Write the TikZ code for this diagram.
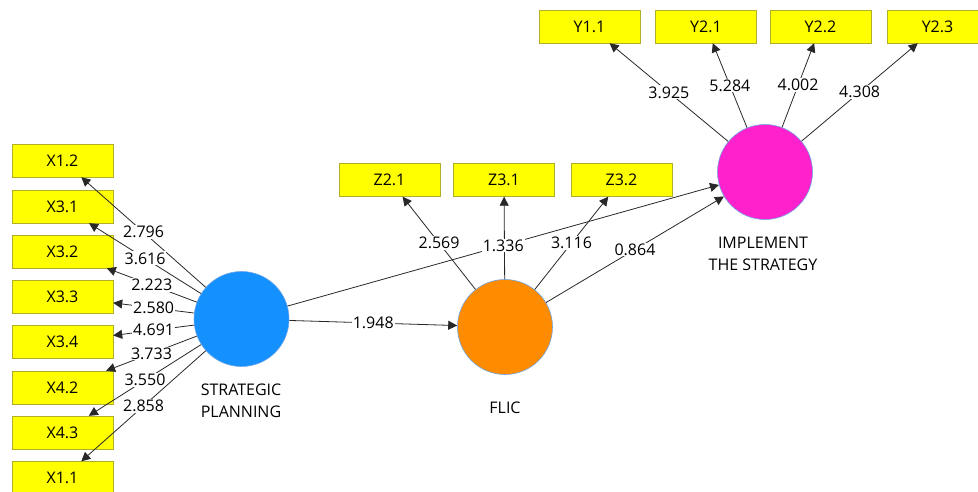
\documentclass[tikz,border=0pt]{standalone}
\usepackage{fontspec}
\setmainfont{Open Sans}
\usetikzlibrary{arrows.meta}
\definecolor{boxyellow}{RGB}{255,255,0}
\definecolor{boxedge}{RGB}{175,175,40}
\definecolor{spblue}{RGB}{20,144,255}
\definecolor{flicorange}{RGB}{255,140,0}
\definecolor{imppink}{RGB}{255,34,204}
\definecolor{ringedge}{RGB}{110,165,230}
\definecolor{pathgray}{RGB}{40,40,40}

\begin{document}
\begin{tikzpicture}[x=1pt,y=-1pt,
  every node/.style={font=\fontsize{16}{22}\selectfont},
  ind/.style={draw=boxedge,fill=boxyellow,minimum width=101pt,minimum height=33pt,inner sep=0pt},
  lv/.style={circle,draw=ringedge,line width=.6pt,minimum size=95pt,inner sep=0pt},
  loading/.style={draw=pathgray,line width=.8pt,-{Triangle[length=9pt,width=9pt]}},
  coef/.style={fill=white,inner sep=1pt}]
\useasboundingbox (0,0) rectangle (978,492);
\clip (0,0) rectangle (978,492);
% latent variables
\node[lv,fill=spblue] (sp) at (241.5,319) {};
\node[lv,fill=flicorange] (flic) at (505,327) {};
\node[lv,fill=imppink] (imp) at (765,172) {};
\node[align=center] (splab) at (241,401) {STRATEGIC\\PLANNING};
\node (fliclab) at (505,408) {FLIC};
\node[align=center] (implab) at (763,253.5) {IMPLEMENT\\THE STRATEGY};
% indicators
\node[ind] (x12) at (62.5,160.5) {X1.2};
\node[ind] (x31) at (62.5,206.5) {X3.1};
\node[ind] (x32) at (62.5,251.5) {X3.2};
\node[ind] (x33) at (62.5,296.5) {X3.3};
\node[ind] (x34) at (62.5,342) {X3.4};
\node[ind] (x42) at (62.5,387.5) {X4.2};
\node[ind] (x43) at (62.5,432.5) {X4.3};
\node[ind] (x11) at (62.5,478) {X1.1};
\node[ind] (z21) at (389.5,180) {Z2.1};
\node[ind] (z31) at (504,180) {Z3.1};
\node[ind] (z32) at (621.5,180) {Z3.2};
\node[ind] (y11) at (589.5,26.5) {Y1.1};
\node[ind] (y21) at (706,26.5) {Y2.1};
\node[ind] (y22) at (820.5,26.5) {Y2.2};
\node[ind] (y23) at (937.5,26.5) {Y2.3};
% outer loadings
\draw[loading] (sp) -- node[coef]{2.796} (x12);
\draw[loading] (sp) -- node[coef]{3.616} (x31);
\draw[loading] (sp) -- node[coef]{2.223} (x32);
\draw[loading] (sp) -- node[coef]{2.580} (x33);
\draw[loading] (sp) -- node[coef]{4.691} (x34);
\draw[loading] (sp) -- node[coef]{3.733} (x42);
\draw[loading] (sp) -- node[coef]{3.550} (x43);
\draw[loading] (sp) -- node[coef]{2.858} (x11);
\draw[loading] (flic) -- node[coef]{2.569} (z21);
\draw[loading] (flic) -- (z31);
\draw[loading] (flic) -- node[coef]{3.116} (z32);
\draw[loading] (imp) -- node[coef]{3.925} (y11);
\draw[loading] (imp) -- node[coef]{5.284} (y21);
\draw[loading] (imp) -- node[coef]{4.002} (y22);
\draw[loading] (imp) -- node[coef]{4.308} (y23);
% inner model
\draw[loading] (sp) -- node[coef]{1.948} (flic);
\draw[loading] (flic) -- node[coef]{0.864} (imp);
\draw[loading] (sp) -- node[coef]{1.336} (imp);
\end{tikzpicture}
\end{document}
